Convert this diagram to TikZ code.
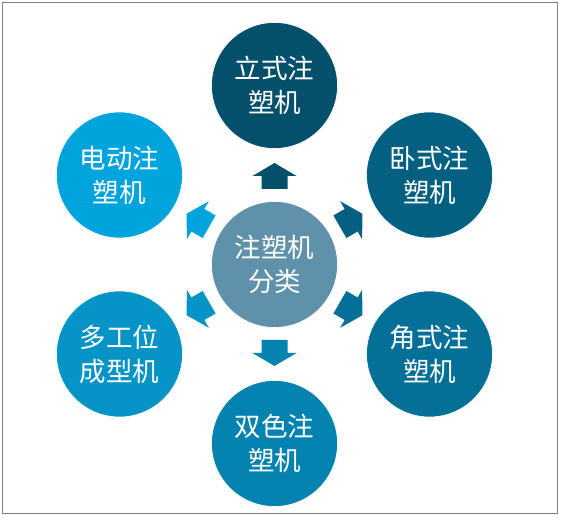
\documentclass[tikz,border=0pt]{standalone}
\usepackage{fontspec}
\usetikzlibrary{calc}
\newfontfamily\cjk{Noto Sans CJK SC}
\definecolor{cTop}{RGB}{4,79,106}
\definecolor{cTR}{RGB}{3,96,129}
\definecolor{cBR}{RGB}{4,112,152}
\definecolor{cBot}{RGB}{4,130,176}
\definecolor{cBL}{RGB}{6,148,198}
\definecolor{cTL}{RGB}{0,164,220}
\definecolor{cCen}{RGB}{95,146,170}
\definecolor{frame}{RGB}{128,128,128}
\tikzset{
  bubble/.style={circle, minimum size=126pt, inner sep=0pt, draw=white, line width=0.6pt,
    text=white, align=center, font=\cjk\fontsize{26.5pt}{34pt}\selectfont},
}
\begin{document}
\begin{tikzpicture}[x=1pt,y=1pt]
\useasboundingbox (0,0) rectangle (561,519);
\draw[frame, line width=1.3pt] (2.3,5.3) rectangle (557.7,516.5);
\node[bubble, fill=cCen] (c) at (274.5,254.5) {注塑机\\分类};
\foreach \n/\ang/\col/\txt in {
  t/90/cTop/{立式注\\塑机},
  tr/30/cTR/{卧式注\\塑机},
  br/-30/cBR/{角式注\\塑机},
  b/-90/cBot/{双色注\\塑机},
  bl/-150/cBL/{多工位\\成型机},
  tl/150/cTL/{电动注\\塑机}} {
  \node[bubble, fill=\col] (\n) at ($(c.center)+(\ang:179)$) {\txt};
  \begin{scope}[shift={(c.center)}, rotate=\ang]
    \fill[\col] (75.5,-13) -- (88.5,-13) -- (88.5,-22) -- (101.5,0) -- (88.5,22) -- (88.5,13) -- (75.5,13) -- cycle;
  \end{scope}
}
\end{tikzpicture}
\end{document}
